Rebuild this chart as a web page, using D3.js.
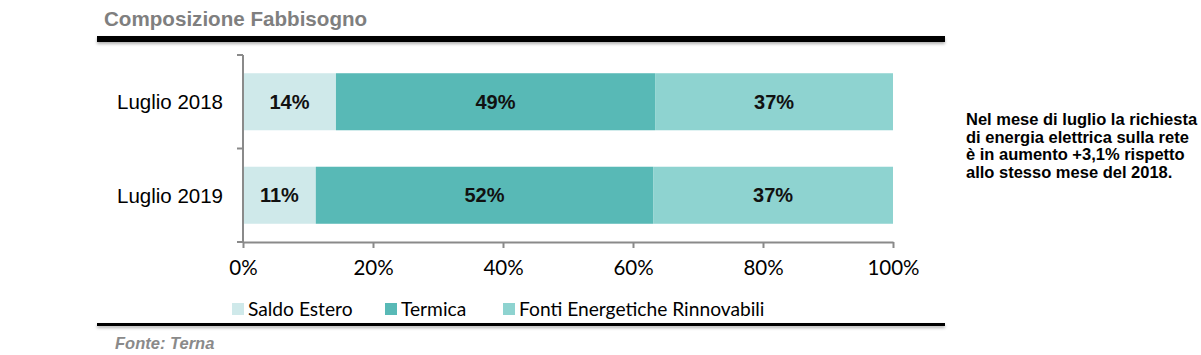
<!DOCTYPE html>
<html><head><meta charset="utf-8">
<script src="https://cdn.jsdelivr.net/npm/d3@7"></script>
<style>
html,body{margin:0;padding:0;background:#fff;}
svg{display:block;}
</style></head>
<body>
<svg id="c" width="1201" height="355"></svg>
<script>
const categories = ["Luglio 2018", "Luglio 2019"];
const seriesNames = ["Saldo Estero", "Termica", "Fonti Energetiche Rinnovabili"];
const saldoEstero = [14.3, 11.2];
const termica = [49.1, 51.9];
const rinnovabili = [36.6, 36.9];
const xTicks = [0, 20, 40, 60, 80, 100];
const colors = ["#cfe9ea", "#58b9b6", "#8ed3d0"];
const title = "Composizione Fabbisogno";
const note = ["Nel mese di luglio la richiesta", "di energia elettrica sulla rete", "è in aumento +3,1% rispetto", "allo stesso mese del 2018."];
const source = "Fonte: Terna";

const svg = d3.select("#c");
const defs = svg.append("defs");
const f = defs.append("filter").attr("id","sh").attr("x","-5%").attr("y","-100%").attr("width","110%").attr("height","400%");
f.append("feDropShadow").attr("dx",0).attr("dy",2).attr("stdDeviation",1.5).attr("flood-color","#000").attr("flood-opacity",0.3);

// title
svg.append("text").attr("x",104).attr("y",26).text(title)
  .attr("font-family","Liberation Sans, Arial, sans-serif").attr("font-weight","bold")
  .attr("font-size",20.6).attr("fill","#7f7f7f");
svg.append("rect").attr("x",97).attr("y",36).attr("width",848).attr("height",6).attr("fill","#000").attr("filter","url(#sh)");

const x = d3.scaleLinear().domain([0,100]).range([243,893]);
const y = d3.scaleBand().domain(categories).range([55,242]).paddingInner(0.39).paddingOuter(0.195);

const data = categories.map((c,i)=>({cat:c, v:[saldoEstero[i], termica[i], rinnovabili[i]]}));
const stack = d3.stack().keys([0,1,2]).value((d,k)=>d.v[k]);
const layers = stack(data);

const g = svg.append("g");
layers.forEach((layer,k)=>{
  g.selectAll(null).data(layer).enter().append("rect")
    .attr("x",d=>x(d[0])).attr("width",d=>x(d[1])-x(d[0]))
    .attr("y",d=>y(d.data.cat)).attr("height",y.bandwidth())
    .attr("fill",colors[k]);
  g.selectAll(null).data(layer).enter().append("text")
    .attr("x",d=>(x(d[0])+x(d[1]))/2).attr("y",d=>y(d.data.cat)+y.bandwidth()/2)
    .attr("dy","0.36em").attr("text-anchor","middle")
    .attr("font-family","Liberation Sans, Arial, sans-serif").attr("font-weight","bold")
    .attr("font-size",20).attr("fill","#111")
    .text(d=>Math.round(d[1]-d[0])+"%");
});

// y axis
const axisColor = "#8a8a8a";
const step = y.step();
const bounds = [y.range()[0]];
categories.forEach(c=>bounds.push(y(c)-step*y.paddingInner()/2+step));
const ya = svg.append("g");
ya.append("line").attr("x1",243).attr("x2",243).attr("y1",y.range()[0]).attr("y2",y.range()[1])
  .attr("stroke",axisColor).attr("stroke-width",2);
ya.selectAll(null).data(bounds).enter().append("line")
  .attr("x1",237).attr("x2",243).attr("y1",d=>d).attr("y2",d=>d)
  .attr("stroke",axisColor).attr("stroke-width",2);
ya.selectAll(null).data(categories).enter().append("text")
  .attr("x",223).attr("y",d=>y(d)+y.bandwidth()/2).attr("dy","0.36em")
  .attr("text-anchor","end").attr("font-family","Liberation Sans, Arial, sans-serif")
  .attr("font-size",20.5).attr("fill","#000").text(d=>d);

// x axis
const xa = svg.append("g").attr("transform","translate(0,242)")
  .call(d3.axisBottom(x).tickValues(xTicks).tickSize(6).tickSizeOuter(0).tickPadding(12).tickFormat(d=>d+"%"));
xa.select(".domain").attr("stroke",axisColor).attr("stroke-width",2);
xa.selectAll(".tick line").attr("stroke",axisColor).attr("stroke-width",2);
xa.selectAll(".tick text").attr("font-family","Lato, sans-serif").attr("font-size",20.5).attr("fill","#000");

// legend
const legX = [232, 385, 503];
const lg = svg.append("g");
seriesNames.forEach((s,i)=>{
  lg.append("rect").attr("x",legX[i]).attr("y",303).attr("width",12).attr("height",12).attr("fill",colors[i]);
  lg.append("text").attr("x",legX[i]+16).attr("y",316).text(s)
    .attr("font-family","Lato, sans-serif").attr("font-size",19.2).attr("fill","#000");
});

svg.append("rect").attr("x",97).attr("y",323).attr("width",848).attr("height",3).attr("fill","#000").attr("filter","url(#sh)");

svg.append("text").attr("x",115).attr("y",349).text(source)
  .attr("font-family","Liberation Sans, Arial, sans-serif").attr("font-weight","bold").attr("font-style","italic")
  .attr("font-size",16.5).attr("fill","#8a8a8a");

// note
const nt = svg.append("text").attr("font-family","Liberation Sans, Arial, sans-serif")
  .attr("font-weight","bold").attr("font-size",16.5).attr("fill","#000");
note.forEach((l,i)=>nt.append("tspan").attr("x",966).attr("y",125+i*17.7).text(l));
</script>
</body></html>
